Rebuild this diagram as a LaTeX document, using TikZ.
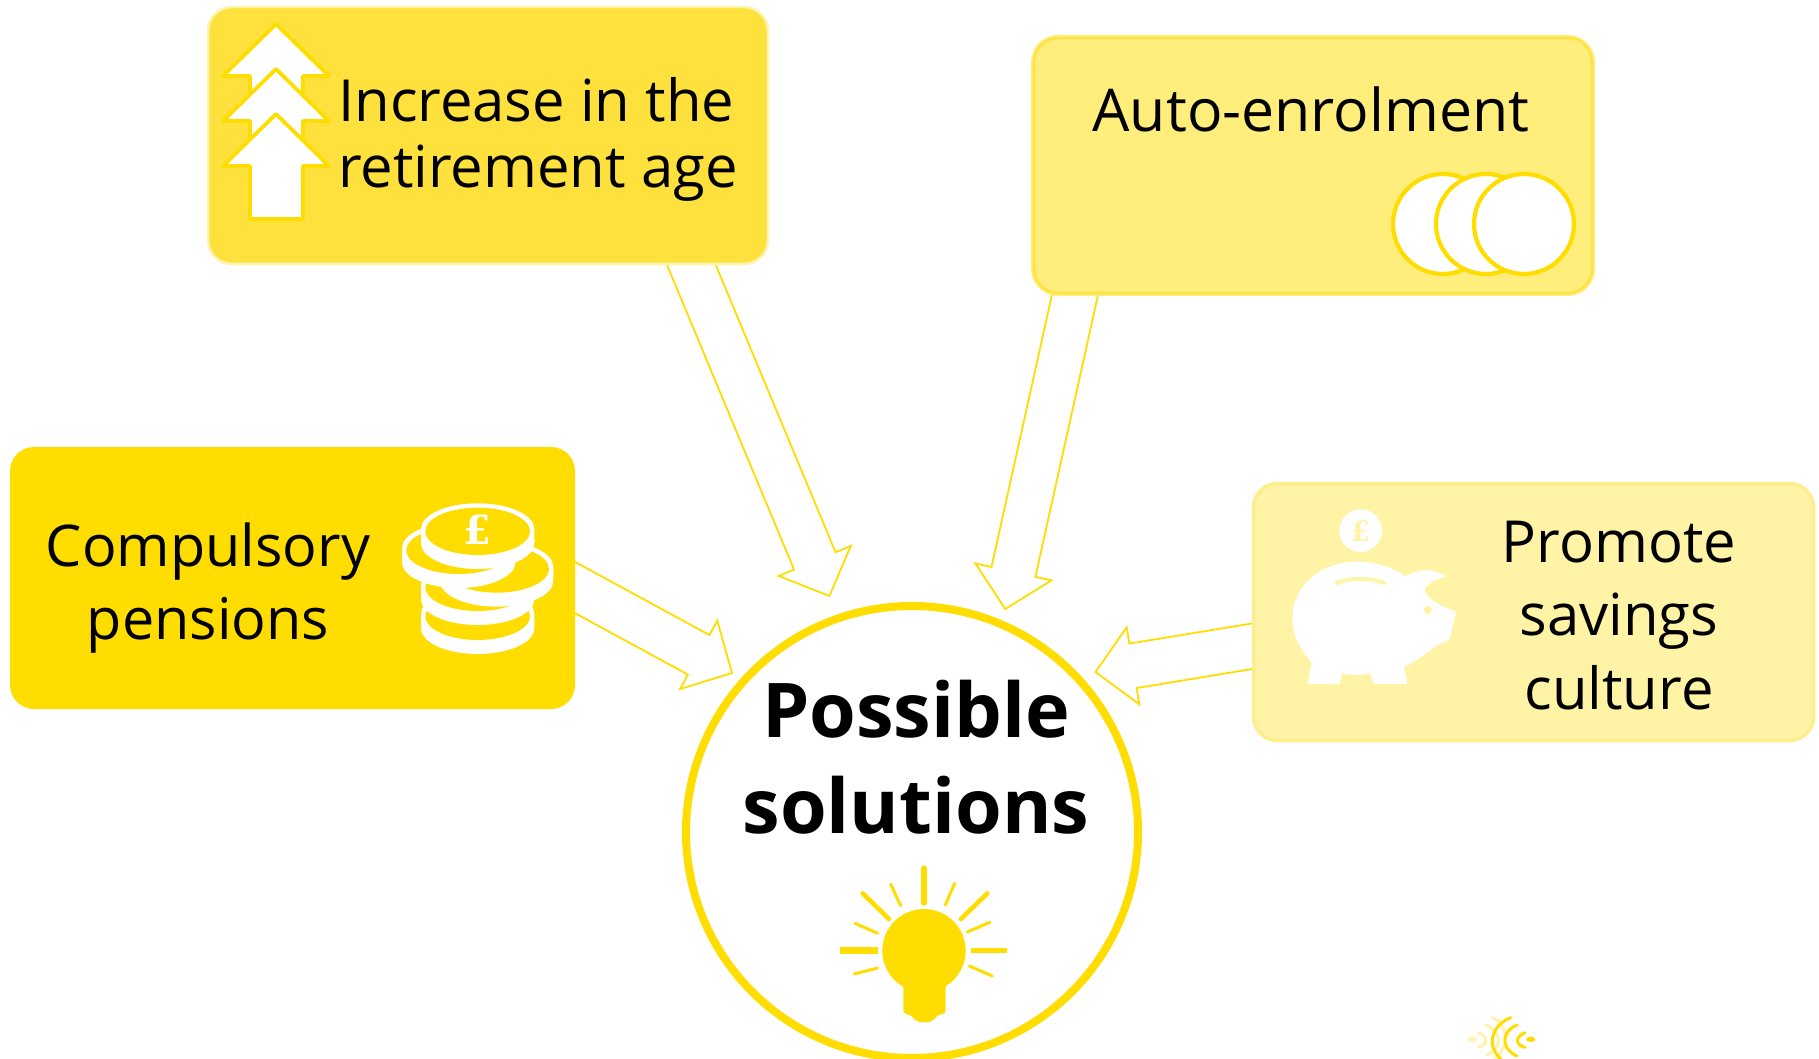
\documentclass[tikz,border=0pt]{standalone}
\usepackage{fontspec}
\setmainfont{Open Sans}
\newfontfamily\slabfont{DejaVu Serif}
\usetikzlibrary{calc,backgrounds}
\definecolor{ygold}{HTML}{FFDD00}
\definecolor{yone}{HTML}{FFE13D}
\definecolor{ytwo}{HTML}{FFEE7C}
\definecolor{ythree}{HTML}{FFF3A6}
\definecolor{ypale}{HTML}{FFF3B0}
\definecolor{ytwoline}{HTML}{FFE345}
\definecolor{ythreeline}{HTML}{FFEE8C}
\tikzset{
  x=1pt,y=-1pt,
  boxshape/.style={rectangle,rounded corners=24pt,inner sep=0pt,outer sep=0pt},
  blockarrow/.style={draw=ygold,fill=white,line width=1.8pt,line join=miter},
  labeltext/.style={inner sep=0pt,text=black,align=center,font=\fontsize{58}{66}\selectfont},
  uparrow/.style={draw=ygold,fill=white,line width=3.8pt,line join=round},
  coincircle/.style={draw=ygold,fill=white,line width=4.2pt},
  ray/.style={draw=ygold,line cap=round},
  logodark/.style={draw=ygold,line width=3pt,line cap=round},
  logopale/.style={draw=ypale,line width=3pt,line cap=round},
}
% block arrow from named start to named tip
\newcommand{\blockarrowpath}[2]{%
  \coordinate (ba0) at ($(#1)!-30pt!(#2)$);
  \coordinate (bab) at ($(#2)!38pt!(#1)$);
  \draw[blockarrow] ($(ba0)!22.5pt!90:(#2)$) -- ($(bab)!22.5pt!90:(#2)$) -- ($(bab)!39pt!90:(#2)$) -- (#2)
    -- ($(bab)!39pt!-90:(#2)$) -- ($(bab)!22.5pt!-90:(#2)$) -- ($(ba0)!22.5pt!-90:(#2)$) -- cycle;}
\newcommand{\upicon}[1]{% tip height
  \draw[uparrow] (276,#1) -- (329,{#1+52}) -- (303,{#1+52}) -- (303,{#1+105}) -- (250,{#1+105}) -- (250,{#1+52}) -- (223,{#1+52}) -- cycle;}
\newcommand{\coin}[2]{% zoom coordinates x,y: centre of top ellipse
  \fill[white] ({#1-170},#2) arc[start angle=180,end angle=0,x radius=170,y radius=-77] -- ++(0,43)
     arc[start angle=0,end angle=-180,x radius=170,y radius=-77] -- cycle;
  \fill[ygold] (#1,{#2+7}) ellipse[x radius=157,y radius=71];}
\begin{document}
\begin{tikzpicture}
\useasboundingbox (0,0) rectangle (1819,1059);
\node[boxshape,fill=yone,draw=ypale,line width=2.5pt,minimum width=560pt,minimum height=257pt] (b1) at (488,135.5) {};
\node[boxshape,fill=ytwo,draw=ytwoline,line width=2.6pt,preaction={draw=ytwo,line width=6pt},minimum width=558pt,minimum height=255pt] (b2) at (1313,165.5) {};
\node[boxshape,fill=ygold,minimum width=565pt,minimum height=262pt] (b3) at (292.5,578) {};
\node[boxshape,fill=ythree,draw=ythreeline,line width=3.5pt,minimum width=560pt,minimum height=257pt] (b4) at (1533.5,612) {};
\node[circle,draw=ygold,fill=white,line width=8pt,minimum size=452pt,inner sep=0pt] (c) at (912,832) {};
\coordinate (a1s) at ($(b1.south west)+(483,0)$);
\coordinate (a1t) at (829.4,596);
\coordinate (a2s) at ($(b2.south west)+(41.4,0)$);
\coordinate (a2t) at (1005.2,609);
\coordinate (a3s) at ($(b3.east)+(0,9.5)$);
\coordinate (a3t) at (732,673);
\coordinate (a4s) at ($(b4.west)+(0,34)$);
\coordinate (a4t) at (1095.5,672);
\begin{scope}[on background layer]
\blockarrowpath{a1s}{a1t}
\blockarrowpath{a2s}{a2t}
\blockarrowpath{a3s}{a3t}
\blockarrowpath{a4s}{a4t}
\end{scope}
% text
\node[labeltext,align=left] (t1) at (538,139) {Increase in the\\retirement age};
\node[labeltext,font=\fontsize{59}{66}\selectfont] (t2) at (1311,109) {Auto-enrolment};
\node[labeltext,font=\fontsize{57.5}{73.5}\selectfont] (t3) at (208,588) {Compulsory\\pensions};
\node[labeltext,font=\fontsize{58}{73.5}\selectfont] (t4) at (1619,615.5) {Promote\\savings\\culture};
\node[labeltext,font=\fontsize{75.5}{96}\bfseries\selectfont] (t5) at (916,757) {Possible\\solutions};
% stacked arrows
\upicon{24}
\upicon{69}
\upicon{114}
% circles
\draw[coincircle] (1443,224) circle[radius=50];
\draw[coincircle] (1486,224) circle[radius=50];
\draw[coincircle] (1524,224) circle[radius=50];
% coin stack
\begin{scope}[shift={(380,480)},x=0.3333pt,y=-0.3333pt]
\coin{293}{402}
\coin{293}{315}
\coin{350}{260}
\coin{236}{204}
\coin{293}{147}
\node[text=white,inner sep=0pt,font=\fontsize{40}{40}\slabfont\bfseries\selectfont] (pound1) at (293,150) {£};
\end{scope}
% piggy bank
\begin{scope}[shift={(1080,480)},x=0.3333pt,y=-0.3333pt]
\fill[white] (695,547) -- (683,612) -- (780,612) -- (786,580) .. controls (810,586) and (850,586) .. (870,580) -- (882,612) -- (982,612) -- (972,560)
  .. controls (1010,545) and (1050,510) .. (1080,490) -- (1108,480) -- (1128,395)
  .. controls (1090,380) and (1040,360) .. (1034,330) .. controls (1040,310) and (1070,295) .. (1098,290)
  .. controls (1060,260) and (1010,268) .. (977,290)
  .. controls (930,255) and (870,245) .. (830,245)
  .. controls (720,245) and (637,320) .. (637,415)
  .. controls (637,470) and (665,515) .. (695,547) -- cycle;
\fill[ythree] (1043,390) circle[radius=12];
\draw[ythree,line width=4pt,line cap=round] (770,309) .. controls (810,292) and (870,292) .. (913,309);
\fill[white] (842,152) circle[radius=64];
\node[text=ythree,inner sep=0pt,font=\fontsize{28}{28}\slabfont\bfseries\selectfont] (pound2) at (842,153) {£};
\end{scope}
% bulb
\begin{scope}[shift={(800,840)},x=0.3333pt,y=-0.3333pt]
\fill[ygold] (372,332) circle[radius=125];
\fill[ygold,rounded corners=3pt] (310,420) -- (310,520) -- (335,526) .. controls (350,552) and (395,552) .. (410,526) -- (437,520) -- (437,420) -- cycle;
\draw[ray,line width=6pt] (372,85) -- (372,188);
\draw[ray,line width=3pt] (272,132) -- (302,197);
\draw[ray,line width=4.6pt] (188,160) -- (267,237);
\draw[ray,line width=3pt] (165,250) -- (233,280);
\draw[ray,line width=7pt,line cap=butt] (120,331) -- (233,331);
\draw[ray,line width=3pt] (163,402) -- (233,384);
\draw[ray,line width=5pt,line cap=butt] (513,332) -- (620,332);
\draw[ray,line width=3pt] (508,378) -- (577,408);
\draw[ray,line width=3pt] (502,276) -- (570,247);
\draw[ray,line width=4.6pt] (483,237) -- (562,160);
\draw[ray,line width=3pt] (436,195) -- (464,130);
\end{scope}
% logo fragment
\begin{scope}[shift={(1440,990)},x=0.3333pt,y=-0.3333pt]
\draw[logopale] (157,83) .. controls (205,100) and (210,170) .. (165,207);
\draw[logopale] (137,105) .. controls (180,120) and (195,170) .. (140,195);
\draw[logopale] (115,128) .. controls (145,140) and (145,165) .. (115,172);
\fill[ypale] (97,148) ellipse[x radius=14,y radius=8];
\draw[logodark] (212,83) .. controls (165,100) and (130,160) .. (185,210);
\draw[logodark] (232,105) .. controls (190,120) and (175,170) .. (230,198);
\draw[logodark] (255,128) .. controls (225,140) and (225,165) .. (255,172);
\fill[ygold] (272,148) ellipse[x radius=14,y radius=8];
\end{scope}
\end{tikzpicture}
\end{document}
